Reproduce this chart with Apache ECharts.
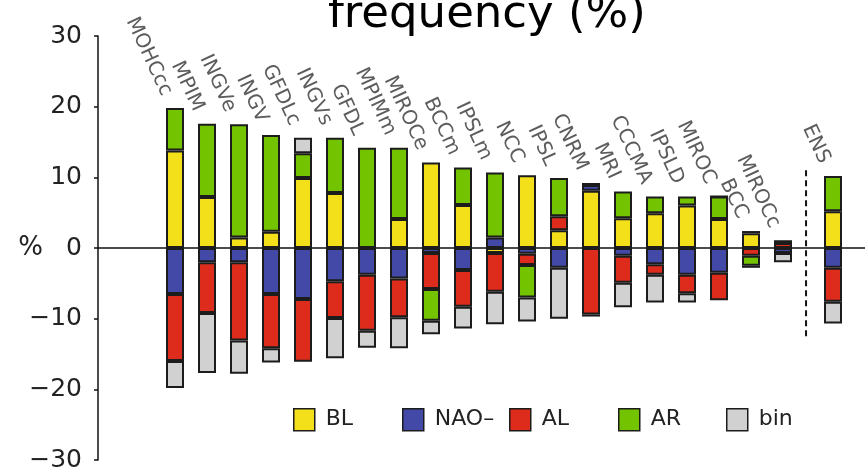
<!DOCTYPE html>
<html><head><meta charset="utf-8">
<script src="https://cdn.jsdelivr.net/npm/echarts@6/dist/echarts.min.js"></script>
<style>html,body{margin:0;padding:0;background:#fff}#c{width:865px;height:469px}</style>
</head><body><div id="c"></div>
<script>
// ---- data ----
const models = ['MOHCcc','MPIM','INGVe','INGV','GFDLc','INGVs','GFDL','MPIMm','MIROCe','BCCm',
                'IPSLm','NCC','IPSL','CNRM','MRI','CCCMA','IPSLD','MIROC','BCC','MIROCc'];
const ensName = 'ENS';
const seriesNames = ['BL','NAO\u2013','AL','AR','bin'];
//              1     2     3     4     5     6     7     8     9    10    11    12    13    14    15    16    17    18    19    20   ENS
const BL   = [13.8,  7.2,  1.5,  2.3,  9.9,  7.8,  0.0,  4.1, 12.1,  6.1, -0.7, 10.3,  2.5,  8.1,  4.2,  4.9,  6.0,  4.1,  2.1,  0.0,  5.2];
const NAO  = [-6.5, -2.0, -2.0, -6.5, -7.2, -4.7, -3.8, -4.3, -0.7, -3.1,  1.5, -0.8, -2.8,  0.8, -1.1, -2.3, -3.8, -3.5,  0.3, -0.7, -2.8];
const AL   = [-9.5, -7.2,-11.1, -7.7, -8.9, -5.2, -7.9, -5.5, -5.1, -5.2, -5.5, -1.6,  2.0, -9.4, -3.8, -1.5, -2.6, -3.9, -1.1,  0.7, -4.8];
const AR   = [ 6.0, 10.4, 16.0, 13.7,  3.5,  7.8, 14.2, 10.1, -4.5,  5.3,  9.2, -4.6,  5.4,  0.3,  3.8,  2.4,  1.3,  3.2, -1.4,  0.4,  5.0];
const BIN  = [-3.8, -8.5, -4.7, -2.0,  2.2, -5.7, -2.4, -4.4, -1.9, -3.1, -4.6, -3.4, -7.2, -0.3, -3.5, -3.9, -1.3,  0.0, -0.3, -1.3, -3.1];
const yTicks = [-30, -20, -10, 0, 10, 20, 30];

// ---- layout / style ----
const colors = ['#f4e01a', '#4249a6', '#dd2b1c', '#73c300', '#d1d1d1'];
const legendLefts = [293, 402, 509, 618, 726];
const ensGap = 0.5625;          // extra spacing before the ensemble bar (axis units)
const dividerOffset = 0.72;     // divider position after last model (axis units)
const dividerTop = 11, dividerBottom = -12.5;
const xMin = 1 - 77 / 32, xMax = xMin + 767 / 32;
const FONT = 'DejaVu Sans';

const allNames = models.concat([ensName]);
const xs = allNames.map((_, i) => i < models.length ? i + 1 : models.length + 1 + ensGap);
const groups = [BL, NAO, AL, AR, BIN];
const posTotal = allNames.map((_, i) => groups.reduce((s, a) => s + Math.max(0, a[i]), 0));
const divX = models.length + dividerOffset;

// value first so that stacking happens on the y dimension
const barSeries = groups.map((vals, k) => ({
  name: seriesNames[k], type: 'bar', stack: 'all', barWidth: 18,
  encode: { x: 1, y: 0 },
  data: vals.map((v, i) => [v, xs[i]]),
  itemStyle: { color: colors[k], borderColor: '#1c1c1c', borderWidth: 2 },
  emphasis: { disabled: true }, silent: true
}));

const legends = seriesNames.map((n, k) => ({
  data: [n], left: legendLefts[k], top: 408, padding: 0, itemWidth: 21, itemHeight: 22,
  icon: 'rect', selectedMode: false,
  itemStyle: { borderColor: '#1c1c1c', borderWidth: 1.5 },
  textStyle: { fontFamily: FONT, fontSize: 22, color: '#222', padding: [0, 0, 0, 6] }
}));

const chart = echarts.init(document.getElementById('c'), null, { renderer: 'canvas' });
chart.setOption({
  animation: false,
  backgroundColor: '#fff',
  title: {
    text: 'frequency (%)', left: 323, top: -12,
    textStyle: { fontFamily: FONT, fontSize: 45, fontWeight: 'normal', color: '#000' }
  },
  legend: legends,
  grid: { left: 98, right: 0, top: 36, bottom: 9, containLabel: false, outerBoundsMode: 'none' },
  xAxis: {
    type: 'value', min: xMin, max: xMax,
    axisLine: { show: true, onZero: true, lineStyle: { color: '#111', width: 1.5 } },
    axisTick: { show: false }, axisLabel: { show: false }, splitLine: { show: false }
  },
  yAxis: {
    type: 'value', min: yTicks[0], max: yTicks[yTicks.length - 1], interval: 10,
    name: '%', nameLocation: 'middle', nameRotate: 0, nameGap: 55, nameMoveOverlap: false,
    nameTextStyle: { fontFamily: FONT, fontSize: 26, color: '#222' },
    axisLine: { show: true, onZero: false, lineStyle: { color: '#111', width: 1.5 } },
    axisTick: { show: true, length: 4, lineStyle: { color: '#111', width: 1.5 } },
    axisLabel: {
      fontFamily: FONT, fontSize: 25, color: '#222', margin: 16,
      formatter: v => v < 0 ? '\u2212' + Math.abs(v) : String(v)
    },
    splitLine: { show: false }
  },
  series: barSeries.concat([
    {
      type: 'scatter', symbolSize: 1, silent: true, z: 5,
      itemStyle: { color: 'rgba(0,0,0,0)' },
      data: allNames.map((n, i) => ({ name: n, value: [xs[i], posTotal[i]] })),
      label: {
        show: true, formatter: '{b}', position: [-8, -13], rotate: -65,
        align: 'right', verticalAlign: 'middle',
        fontFamily: FONT, fontSize: 20, color: '#333'
      }
    },
    {
      type: 'line', symbol: 'none', silent: true, z: 4,
      data: [[divX, dividerTop], [divX, dividerBottom]],
      lineStyle: { color: '#111', width: 2, type: [6, 4] }
    }
  ])
});
</script>
</body></html>
